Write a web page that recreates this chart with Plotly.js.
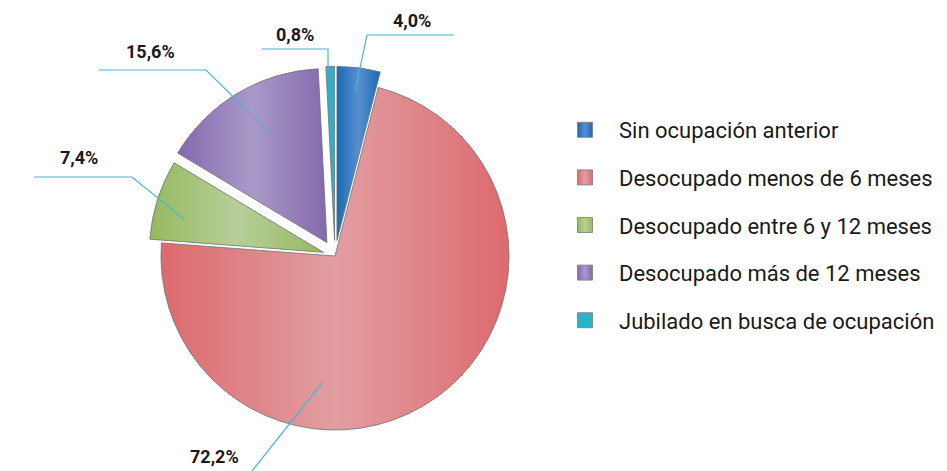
<!DOCTYPE html>
<html>
<head>
<meta charset="utf-8">
<script src="https://cdn.plot.ly/plotly-3.0.1.min.js"></script>
<style>html,body{margin:0;padding:0;background:#fff;}#chart{width:947px;height:471px;}</style>
</head>
<body>
<div id="chart"></div>
<script>
// ---- data ----
const categories = [
  "Sin ocupación anterior",
  "Desocupado menos de 6 meses",
  "Desocupado entre 6 y 12 meses",
  "Desocupado más de 12 meses",
  "Jubilado en busca de ocupación"
];
const values = [4.0, 72.2, 7.4, 15.6, 0.8];
const valueLabels = ["4,0%", "72,2%", "7,4%", "15,6%", "0,8%"];

// ---- styles ----
const colors = ["#2a7bbf", "#e0868b", "#a9c57f", "#9a87be", "#30b0c6"];
const gradEdge = ["#1a6bb3", "#dd6a6e", "#95ba5f", "#8469ad", "#30b0c6"];
const gradMid = ["#5a8ecf", "#e29ea2", "#b8ce99", "#a99ac9", "#30b0c6"];
const pulls = [0.09, 0, 0.07, 0.09, 0.09];
const W = 947, H = 471;
const domX = [0.1534, 0.5541], domY = [0.0537, 0.8592];
// leader line styling (angle offset from slice mid, radial fraction, elbow px, end px, label px)
const leaders = [
  {off: -0.3, frac: 0.86, elbow: [367, 35], end: [454, 35], lab: [412, 21]},
  {off: 41.5, frac: 0.734, elbow: [252, 471], end: null, lab: [214, 456]},
  {off: -4.4, frac: 0.82, elbow: [132, 177], end: [34, 177], lab: [79, 158]},
  {off: 3.6, frac: 0.71, elbow: [206, 70], end: [99, 70], lab: [150, 52]},
  {off: -0.8, frac: 0.965, elbow: [328, 49], end: [262, 49], lab: [295, 35]}
];

// pie geometry same as plotly's
const boxW = W * (domX[1] - domX[0]), boxH = H * (domY[1] - domY[0]);
const maxPull = Math.max(...pulls);
const r = Math.min(boxW, boxH) / 2 / (1 + maxPull);
const cx = W * (domX[0] + domX[1]) / 2;
const cy = H * (1 - domY[0]) - boxH / 2;
const total = values.reduce((a, b) => a + b, 0);
const px = (x) => x / W, py = (y) => 1 - y / H;
const dir = (deg) => { const t = deg * Math.PI / 180; return [Math.sin(t), -Math.cos(t)]; };

const shapes = [], annotations = [];
let cum = 0;
values.forEach((v, i) => {
  const mid = (cum + v / 2) / total * 360;
  cum += v;
  const L = leaders[i];
  const d0 = dir(mid);
  const vx = cx + pulls[i] * r * d0[0], vy = cy + pulls[i] * r * d0[1];
  const d1 = dir(mid + L.off);
  const sx = vx + L.frac * r * d1[0], sy = vy + L.frac * r * d1[1];
  let path = `M${px(sx)},${py(sy)} L${px(L.elbow[0])},${py(L.elbow[1])}`;
  if (L.end) path += ` L${px(L.end[0])},${py(L.end[1])}`;
  shapes.push({type: 'path', xref: 'paper', yref: 'paper', path: path, layer: 'above',
    line: {color: '#3cb8d3', width: 1.2}});
  annotations.push({xref: 'paper', yref: 'paper', x: px(L.lab[0]), y: py(L.lab[1]),
    xanchor: 'center', yanchor: 'middle', showarrow: false, text: valueLabels[i],
    font: {family: 'Roboto, Arial, sans-serif', size: 18, color: '#1a1a1a', weight: 'bold'}});
});

const traces = [{
  type: 'pie',
  values: values,
  labels: categories,
  sort: false,
  direction: 'clockwise',
  rotation: 0,
  pull: pulls,
  textinfo: 'none',
  hoverinfo: 'label+percent',
  showlegend: false,
  domain: {x: domX, y: domY},
  marker: {colors: colors, line: {color: '#707070', width: 0.8}}
}];
// legend entries
categories.forEach((c, i) => {
  traces.push({
    type: 'scatter', mode: 'markers', x: [5], y: [5], name: c,
    legendgroup: 'g' + i, hoverinfo: 'skip',
    marker: {symbol: 'square', size: 15, color: colors[i], line: {color: '#7a7a7a', width: 0.8}}
  });
});

const layout = {
  width: W, height: H,
  margin: {l: 0, r: 0, t: 0, b: 0},
  paper_bgcolor: '#ffffff', plot_bgcolor: 'rgba(0,0,0,0)',
  xaxis: {visible: false, range: [0, 1], fixedrange: true},
  yaxis: {visible: false, range: [0, 1], fixedrange: true},
  showlegend: true,
  legend: {
    x: 551 / W, xanchor: 'left', y: 1 - 109 / H, yanchor: 'top',
    itemwidth: 58, tracegroupgap: 16, traceorder: 'grouped',
    font: {family: 'Roboto, Arial, sans-serif', size: 22, color: '#1a1a1a'},
    bgcolor: 'rgba(0,0,0,0)'
  },
  shapes: shapes,
  annotations: annotations
};

function makeGradients(gd) {
  const defs = gd.querySelector('.main-svg defs');
  if (!defs) return;
  const NS = 'http://www.w3.org/2000/svg';
  gradEdge.forEach((e, i) => {
    const g = document.createElementNS(NS, 'linearGradient');
    g.setAttribute('id', 'pieGrad' + i);
    g.setAttribute('x1', '0'); g.setAttribute('x2', '1');
    g.setAttribute('y1', '0'); g.setAttribute('y2', '0');
    [[0, e], [0.5, gradMid[i]], [1, e]].forEach(([o, c]) => {
      const s = document.createElementNS(NS, 'stop');
      s.setAttribute('offset', o);
      s.setAttribute('stop-color', c);
      g.appendChild(s);
    });
    defs.appendChild(g);
  });
  gd.querySelectorAll('.pielayer .slice path.surface').forEach((p, i) => {
    p.style.fill = `url(#pieGrad${i})`;
  });
  gd.querySelectorAll('.legend .traces').forEach((t, i) => {
    t.querySelectorAll('.legendpoints path').forEach(p => { p.style.fill = `url(#pieGrad${i})`; });
  });
}

Plotly.newPlot('chart', traces, layout, {displayModeBar: false, staticPlot: true})
  .then(makeGradients);
</script>
</body>
</html>
